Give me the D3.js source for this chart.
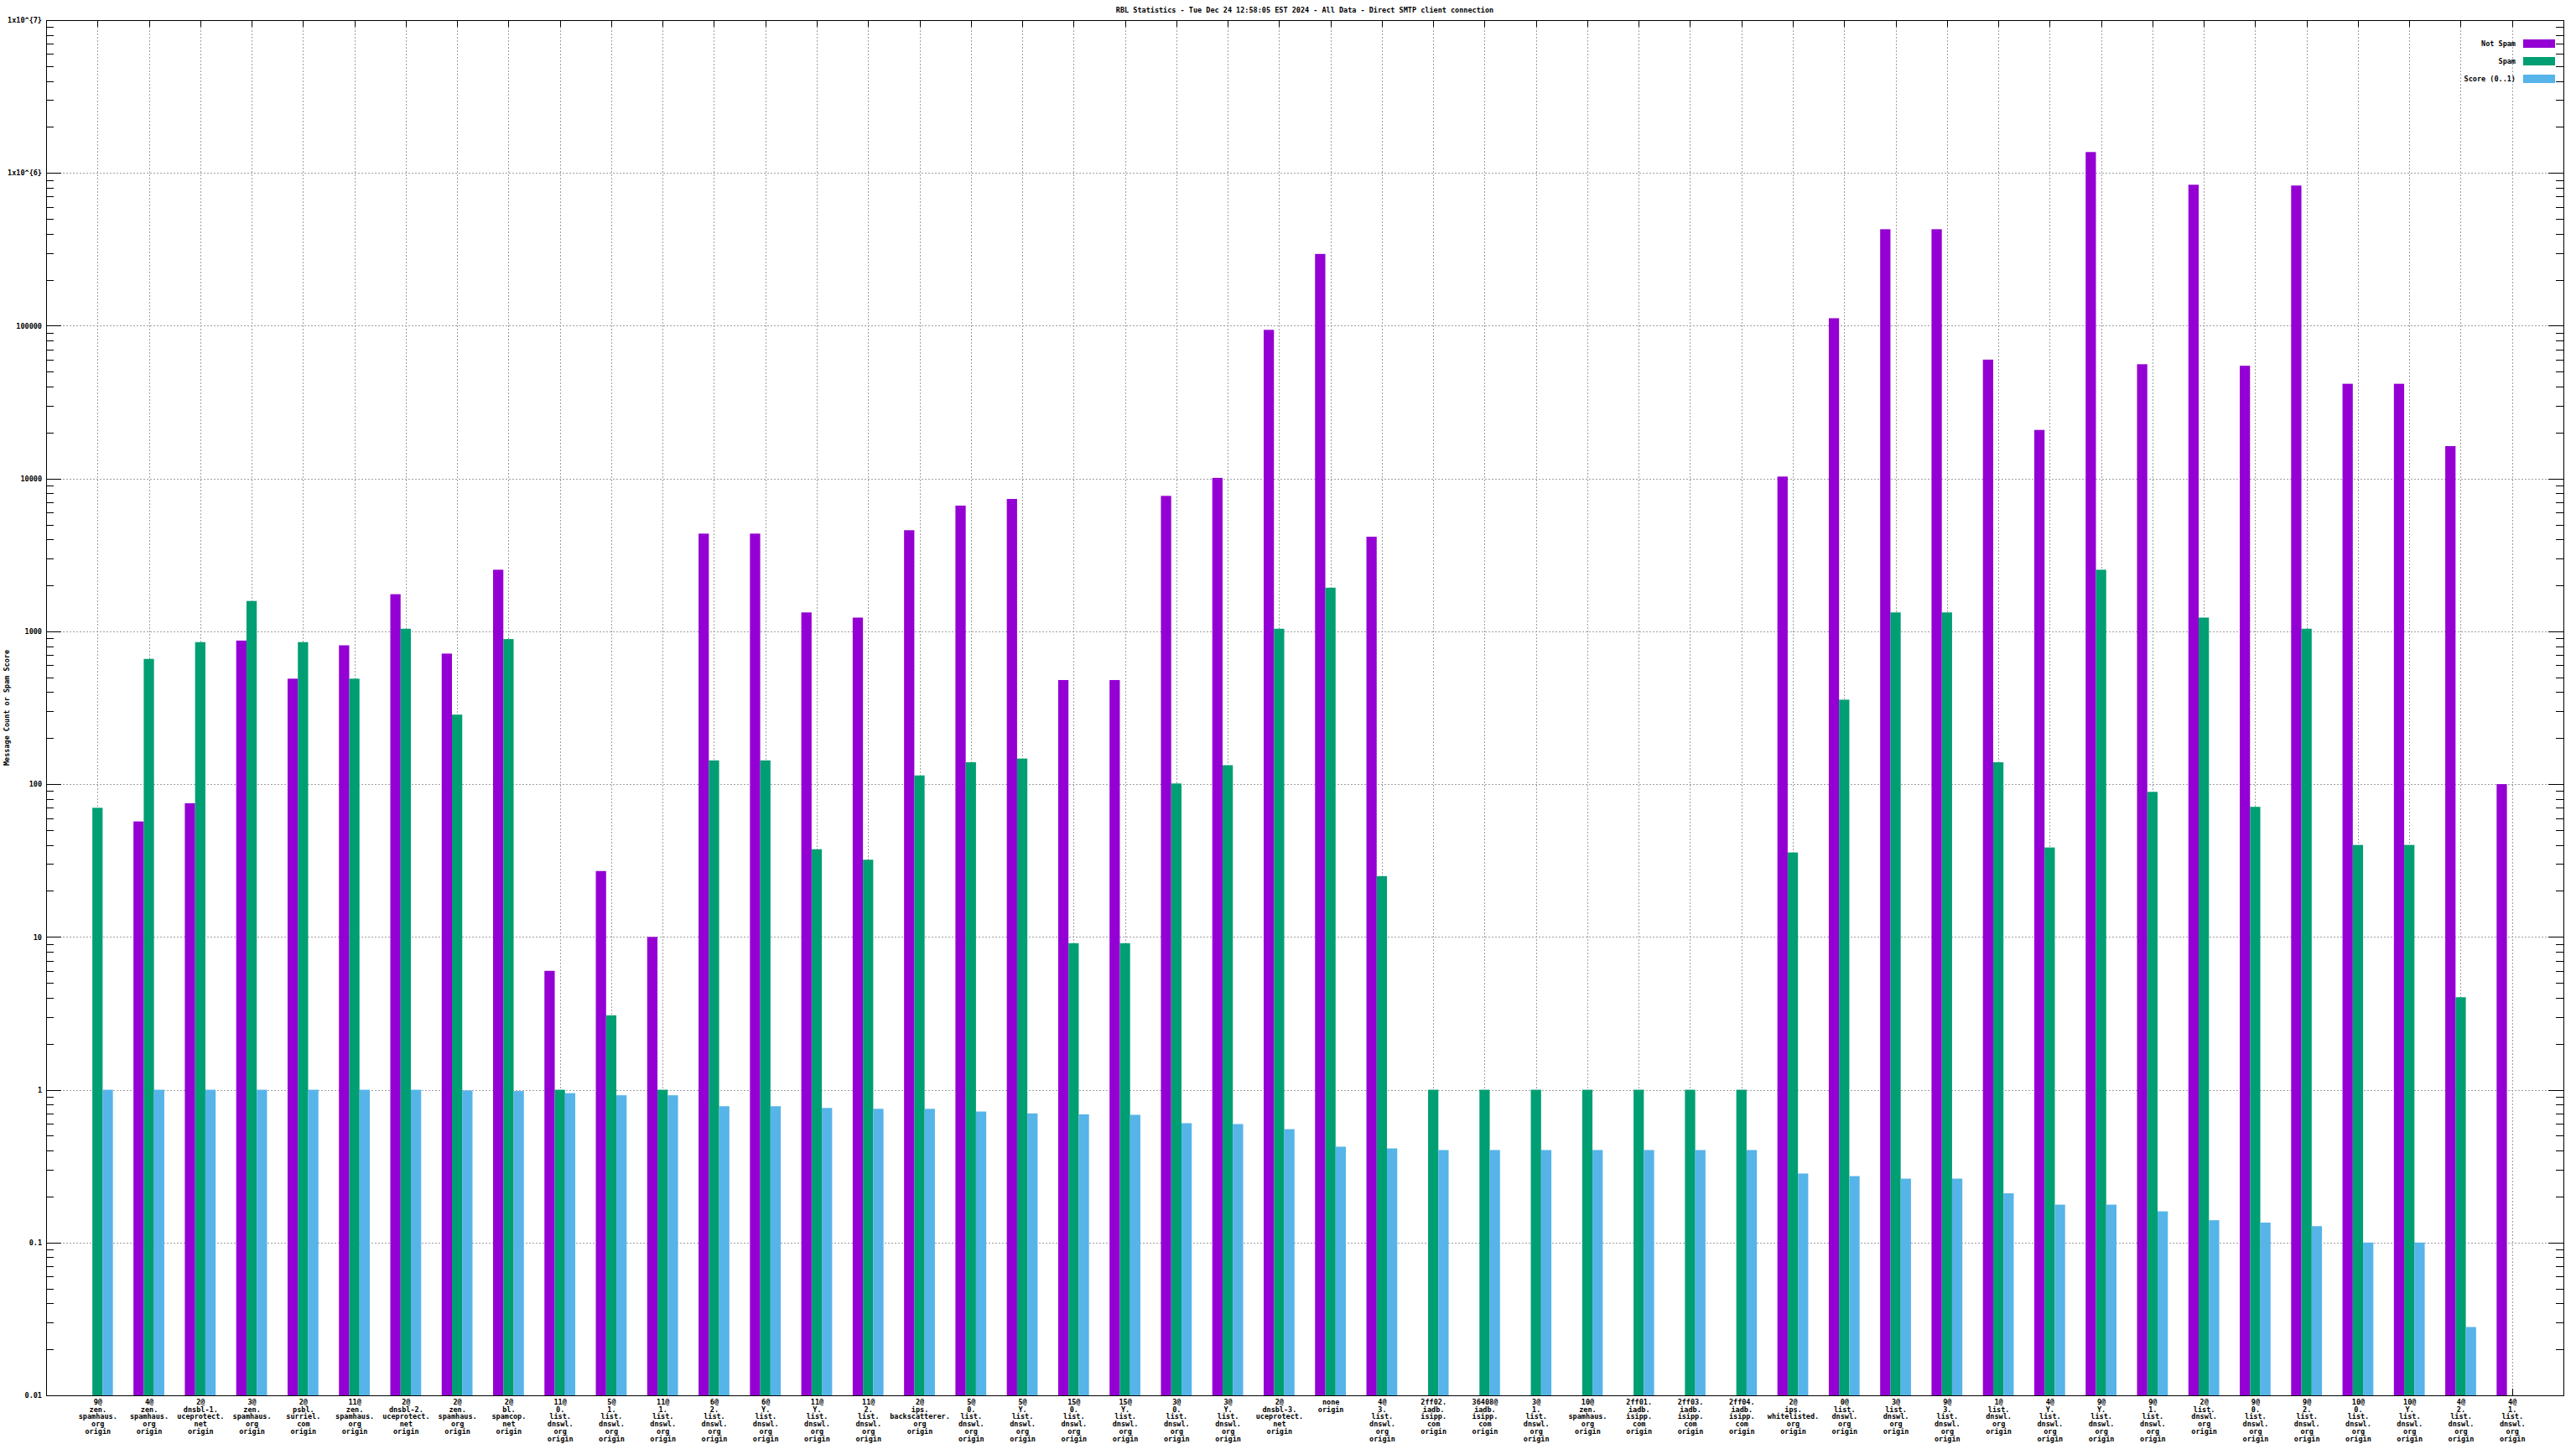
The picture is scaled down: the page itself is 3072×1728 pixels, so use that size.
<!DOCTYPE html>
<html lang="en">
<head>
<meta charset="UTF-8">
<title>RBL Statistics</title>
<script src="https://d3js.org/d3.v7.min.js"></script>
<style>
    body { margin: 0; background: #fff; }
    text { font-family: "DejaVu Sans Mono", monospace; font-size: 8.5px; font-weight: bold; fill: #000; }
    .grid line { stroke: #a0a0a0; stroke-dasharray: 2,2; }
    .axis line { stroke: #000; }
</style>
</head>
<body>
<svg id="chart" width="3072" height="1728"></svg>
<script>
// categories as gnuplot printed them (split at '@', '.' and ' ')
const categories = [
    "9@zen.spamhaus.org origin", "4@zen.spamhaus.org origin", "2@dnsbl-1.uceprotect.net origin",
    "3@zen.spamhaus.org origin", "2@psbl.surriel.com origin", "11@zen.spamhaus.org origin",
    "2@dnsbl-2.uceprotect.net origin", "2@zen.spamhaus.org origin", "2@bl.spamcop.net origin",
    "11@0.list.dnswl.org origin", "5@1.list.dnswl.org origin", "11@1.list.dnswl.org origin",
    "6@2.list.dnswl.org origin", "6@Y.list.dnswl.org origin", "11@Y.list.dnswl.org origin",
    "11@2.list.dnswl.org origin", "2@ips.backscatterer.org origin", "5@0.list.dnswl.org origin",
    "5@Y.list.dnswl.org origin", "15@0.list.dnswl.org origin", "15@Y.list.dnswl.org origin",
    "3@0.list.dnswl.org origin", "3@Y.list.dnswl.org origin", "2@dnsbl-3.uceprotect.net origin",
    "none origin", "4@3.list.dnswl.org origin", "2ff02.iadb.isipp.com origin",
    "36408@iadb.isipp.com origin", "3@1.list.dnswl.org origin", "10@zen.spamhaus.org origin",
    "2ff01.iadb.isipp.com origin", "2ff03.iadb.isipp.com origin", "2ff04.iadb.isipp.com origin",
    "2@ips.whitelisted.org origin", "0@list.dnswl.org origin", "3@list.dnswl.org origin",
    "9@3.list.dnswl.org origin", "1@list.dnswl.org origin", "4@Y.list.dnswl.org origin",
    "9@Y.list.dnswl.org origin", "9@1.list.dnswl.org origin", "2@list.dnswl.org origin",
    "9@0.list.dnswl.org origin", "9@2.list.dnswl.org origin", "10@0.list.dnswl.org origin",
    "10@Y.list.dnswl.org origin", "4@2.list.dnswl.org origin", "4@1.list.dnswl.org origin"
];

const notSpam = [
    null, 57, 75, 870, 490, 810, 1750, 715, 2530,
    6, 27, 10, 4360, 4360, 1330, 1230, 4590, 6650,
    7350, 480, 480, 7700, 10100, 94000, 295000, 4160, null,
    null, null, null, null, null, null, 10300, 112000, 428000,
    428000, 60000, 20800, 1370000, 56000, 837000, 54700, 827000, 41700,
    41700, 16300, 100
];

const spam = [
    70, 660, 850, 1580, 850, 490, 1040, 285, 890,
    1, 3.07, 1, 143, 143, 37.5, 32, 114, 139,
    147, 9.1, 9.1, 101, 133, 1040, 1930, 25, 1,
    1, 1, 1, 1, 1, 1, 35.7, 357, 1330,
    1330, 139, 38.5, 2530, 89, 1230, 71, 1040, 40,
    40, 4.03, null
];

const score = [
    1, 1, 1, 1, 1, 1, 1, 0.99, 0.98,
    0.95, 0.92, 0.92, 0.78, 0.78, 0.76, 0.75, 0.75, 0.72,
    0.70, 0.69, 0.685, 0.604, 0.596, 0.552, 0.424, 0.413, 0.403,
    0.403, 0.403, 0.403, 0.403, 0.403, 0.403, 0.283, 0.272, 0.262,
    0.262, 0.21, 0.177, 0.177, 0.16, 0.14, 0.135, 0.128, 0.1,
    0.1, 0.028, null
];

const yTickValues = [0.01, 0.1, 1, 10, 100, 1000, 10000, 100000, 1e6, 1e7];
const yTickLabels = ["0.01", "0.1", "1", "10", "100", "1000", "10000", "100000", "1x10^{6}", "1x10^{7}"];

const seriesNames = ["Not Spam", "Spam", "Score (0..1)"];
const seriesColors = ["#9400d3", "#009e73", "#56b4e9"];
const series = [notSpam, spam, score];

const title = "RBL Statistics - Tue Dec 24 12:58:05 EST 2024 - All Data - Direct SMTP client connection";
const yLabel = "Message Count or Spam Score";

const plotLeft = 55, plotRight = 3057, plotTop = 24, plotBottom = 1664;
const svg = d3.select('#chart');

const x = d3.scaleLinear().domain([-1, 48]).range([plotLeft, plotRight]);
const y = d3.scaleLog().domain([0.01, 1e7]).range([plotBottom, plotTop]);

const minorTicks = [];
for (let e = -2; e < 7; e++) {
    for (let m = 2; m <= 9; m++) minorTicks.push(m * Math.pow(10, e));
}

// grid
const grid = svg.append('g').attr('class', 'grid').attr('shape-rendering', 'crispEdges');
grid.selectAll('line.h')
    .data(yTickValues.slice(1, -1))
    .enter().append('line')
    .attr('x1', plotLeft).attr('x2', plotRight)
    .attr('y1', d => Math.round(y(d)) + 0.5).attr('y2', d => Math.round(y(d)) + 0.5);
grid.selectAll('line.v')
    .data(d3.range(categories.length))
    .enter().append('line')
    .attr('x1', d => Math.round(x(d)) + 0.5).attr('x2', d => Math.round(x(d)) + 0.5)
    .attr('y1', plotTop).attr('y2', plotBottom);

// axes (ticks point inward like gnuplot)
function axisGroup(axis, tx, ty) {
    const g = svg.append('g').attr('class', 'axis')
        .attr('transform', `translate(${tx},${ty})`)
        .attr('shape-rendering', 'crispEdges')
        .call(axis);
    g.select('.domain').remove();
    g.attr('font-family', null).attr('font-size', null);
    return g;
}

axisGroup(d3.axisLeft(y).tickValues(yTickValues).tickFormat((d, i) => yTickLabels[i])
    .tickSizeInner(-18).tickSizeOuter(0).tickPadding(5), plotLeft, 0);
axisGroup(d3.axisLeft(y).tickValues(minorTicks).tickFormat('').tickSizeInner(-9).tickSizeOuter(0), plotLeft, 0);
axisGroup(d3.axisRight(y).tickValues(yTickValues).tickFormat('').tickSizeInner(-18).tickSizeOuter(0), plotRight, 0);
axisGroup(d3.axisRight(y).tickValues(minorTicks).tickFormat('').tickSizeInner(-9).tickSizeOuter(0), plotRight, 0);
axisGroup(d3.axisTop(x).tickValues(d3.range(categories.length)).tickFormat('').tickSizeInner(-8).tickSizeOuter(0), 0, plotTop);

const xAxis = axisGroup(d3.axisBottom(x).tickValues(d3.range(categories.length))
    .tickFormat((d) => categories[d]).tickSizeInner(-8).tickSizeOuter(0).tickPadding(5), 0, plotBottom);
xAxis.selectAll('text')
    .each(function(d) {
        const t = d3.select(this);
        const lines = categories[d].match(/[^.@ ]+[.@]?/g);
        t.text(null);
        lines.forEach((l, k) => {
            t.append('tspan').attr('x', 0).attr('dy', k ? 8.7 : null).text(l);
        });
    });

// bars
const bw = x(0.2) - x(0);
series.forEach((vals, s) => {
    svg.append('g')
        .selectAll('rect')
        .data(vals.map((v, i) => ({ v: v, i: i })).filter(d => d.v != null))
        .enter().append('rect')
        .attr('x', d => x(d.i - 0.3 + 0.2 * s))
        .attr('width', bw)
        .attr('y', d => y(d.v))
        .attr('height', d => plotBottom - y(d.v))
        .attr('fill', seriesColors[s]);
});

// border
svg.append('rect')
    .attr('x', plotLeft + 0.5).attr('y', plotTop + 0.5)
    .attr('width', plotRight - plotLeft).attr('height', plotBottom - plotTop)
    .attr('fill', 'none').attr('stroke', '#000').attr('shape-rendering', 'crispEdges');

// title and y label
svg.append('text')
    .attr('x', (plotLeft + plotRight) / 2).attr('y', 15)
    .attr('text-anchor', 'middle')
    .text(title);

svg.append('text')
    .attr('transform', `translate(11,${(plotTop + plotBottom) / 2}) rotate(-90)`)
    .attr('text-anchor', 'middle')
    .text(yLabel);

// legend
const legend = svg.append('g');
seriesNames.forEach((name, k) => {
    const ly = 52 + k * 21;
    legend.append('text')
        .attr('x', 3000).attr('y', ly).attr('dy', '0.35em')
        .attr('text-anchor', 'end')
        .text(name);
    legend.append('rect')
        .attr('x', 3009).attr('y', ly - 5)
        .attr('width', 38).attr('height', 10)
        .attr('fill', seriesColors[k]);
});
</script>
</body>
</html>
